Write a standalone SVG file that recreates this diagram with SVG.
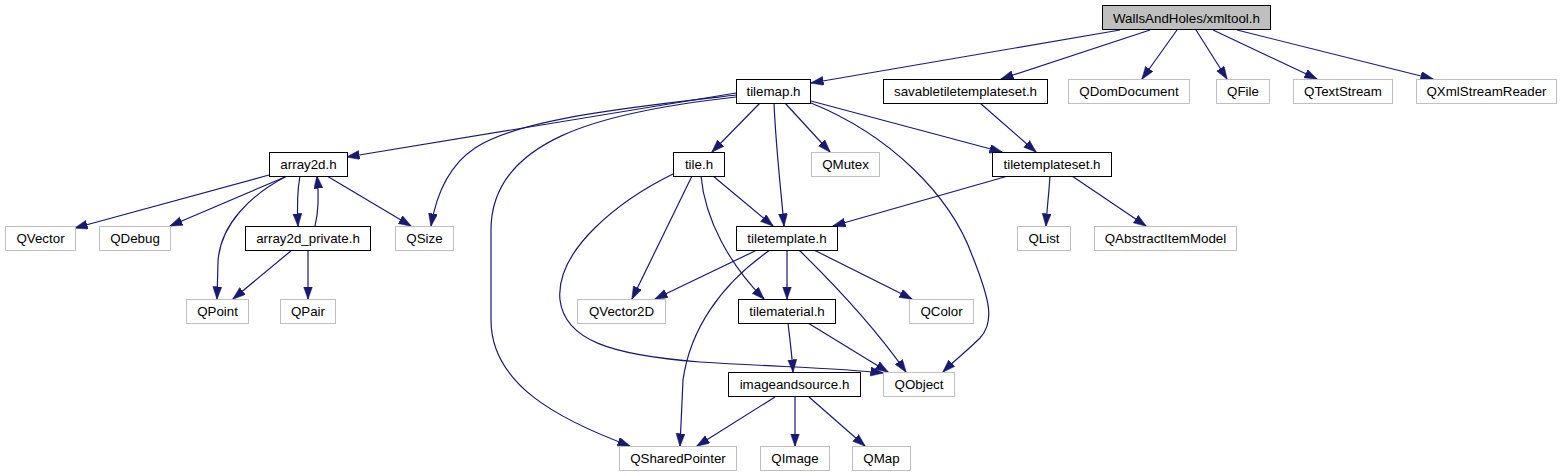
<svg xmlns="http://www.w3.org/2000/svg" width="1563" height="476" viewBox="0 0 1563 476">
<style>
.n rect{fill:#fff;stroke:#000;stroke-width:1}
.x rect{fill:#fff;stroke:#bfbfbf;stroke-width:1}
.r rect{fill:#bfbfbf;stroke:#000;stroke-width:1}
text{font-family:"Liberation Sans",Arial,sans-serif;font-size:13.33px;fill:#000;text-anchor:middle}
#edges path{fill:none;stroke:#191970;stroke-width:1.2;marker-end:url(#ah)}
</style>
<defs>
<marker id="ah" markerWidth="13" markerHeight="10" refX="12.5" refY="4.5" orient="auto" markerUnits="userSpaceOnUse">
<path d="M0,0 L13,4.5 L0,9 z" fill="#191970" stroke="#191970" stroke-width="0.5"/>
</marker>
</defs>
<rect width="1563" height="476" fill="#fff"/>
<g id="edges">
<path d="M1120,30 L811,83"/>
<path d="M1150,30 L1001,79"/>
<path d="M1177,30 L1142,79"/>
<path d="M1196,30 L1227,79"/>
<path d="M1213,30 L1317,79"/>
<path d="M1237,30 L1433,79"/>
<path d="M736,93 L347,157"/>
<path d="M736,95 C 640,106 520,118 475,148 C 448,166 436,196 431,226"/>
<path d="M736,97 C 600,112 491,140 491,230 L491,320 C 491,385 560,420 630,446"/>
<path d="M760,103 L712,152"/>
<path d="M774,103 C 776,150 781,190 784,226"/>
<path d="M785,103 L830,152"/>
<path d="M811,101 L1002,152"/>
<path d="M811,103 C 890,135 950,195 972,255 C 990,300 995,322 980,338 C 968,350 955,360 943,372"/>
<path d="M980,103 L1036,152"/>
<path d="M1008,176 L833,226"/>
<path d="M1050,176 C 1049,192 1047,208 1046,226"/>
<path d="M1072,176 L1146,226"/>
<path d="M269,175 L75,228"/>
<path d="M285,177 L170,226"/>
<path d="M287,176 C 250,195 220,225 218,262 L217,299"/>
<path d="M300,176 C 297,192 297,208 298,226"/>
<path d="M315,226 C 319,210 319,195 317,176"/>
<path d="M327,176 L411,226"/>
<path d="M292,250 L233,299"/>
<path d="M308,250 L308,299"/>
<path d="M713,176 L773,226"/>
<path d="M692,176 L632,299"/>
<path d="M701,176 C 705,220 730,265 764,299"/>
<path d="M673,174 C 620,200 555,250 560,300 C 565,340 610,355 700,362 C 780,367 840,368 883,373"/>
<path d="M757,250 L655,299"/>
<path d="M787,250 L787,299"/>
<path d="M814,250 L912,299"/>
<path d="M799,250 C 840,290 880,335 906,372"/>
<path d="M770,250 C 720,285 690,330 683,380 L680,446"/>
<path d="M788,323 C 790,340 792,355 793,372"/>
<path d="M808,323 L888,372"/>
<path d="M775,397 L697,446"/>
<path d="M795,397 L795,446"/>
<path d="M809,397 L865,446"/>
</g>
<g id="root" class="r"><rect x="1102.5" y="5.5" width="168" height="24"/><text x="1186.5" y="22.5">WallsAndHoles/xmltool.h</text></g>
<g id="tilemap" class="n"><rect x="736.5" y="79.5" width="74" height="24"/><text x="773.5" y="96">tilemap.h</text></g>
<g id="savabletiletemplateset" class="n"><rect x="883.5" y="79.5" width="164" height="24"/><text x="965.5" y="96">savabletiletemplateset.h</text></g>
<g id="QDomDocument" class="x"><rect x="1068.5" y="79.5" width="121" height="24"/><text x="1129" y="96">QDomDocument</text></g>
<g id="QFile" class="x"><rect x="1216.5" y="79.5" width="53" height="24"/><text x="1243" y="96">QFile</text></g>
<g id="QTextStream" class="x"><rect x="1293.5" y="79.5" width="99" height="24"/><text x="1343" y="96">QTextStream</text></g>
<g id="QXmlStreamReader" class="x"><rect x="1416.5" y="79.5" width="140" height="24"/><text x="1486.5" y="96">QXmlStreamReader</text></g>
<g id="array2d" class="n"><rect x="269.5" y="152.5" width="78" height="24"/><text x="308.5" y="169">array2d.h</text></g>
<g id="tile" class="n"><rect x="673.5" y="152.5" width="51" height="24"/><text x="699" y="169">tile.h</text></g>
<g id="QMutex" class="x"><rect x="811.5" y="152.5" width="68" height="24"/><text x="845.5" y="169">QMutex</text></g>
<g id="tiletemplateset" class="n"><rect x="992.5" y="152.5" width="119" height="24"/><text x="1052" y="169">tiletemplateset.h</text></g>
<g id="QVector" class="x"><rect x="5.5" y="226.5" width="70" height="24"/><text x="40.5" y="243">QVector</text></g>
<g id="QDebug" class="x"><rect x="99.5" y="226.5" width="71" height="24"/><text x="135" y="243">QDebug</text></g>
<g id="array2d_private" class="n"><rect x="245.5" y="226.5" width="125" height="24"/><text x="308" y="243">array2d_private.h</text></g>
<g id="QSize" class="x"><rect x="395.5" y="226.5" width="58" height="24"/><text x="424.5" y="243">QSize</text></g>
<g id="tiletemplate" class="n"><rect x="736.5" y="226.5" width="101" height="24"/><text x="787" y="243">tiletemplate.h</text></g>
<g id="QList" class="x"><rect x="1017.5" y="226.5" width="53" height="24"/><text x="1044" y="243">QList</text></g>
<g id="QAbstractItemModel" class="x"><rect x="1094.5" y="226.5" width="142" height="24"/><text x="1165.5" y="243">QAbstractItemModel</text></g>
<g id="QPoint" class="x"><rect x="186.5" y="299.5" width="62" height="24"/><text x="217.5" y="316">QPoint</text></g>
<g id="QPair" class="x"><rect x="280.5" y="299.5" width="55" height="24"/><text x="308" y="316">QPair</text></g>
<g id="QVector2D" class="x"><rect x="577.5" y="299.5" width="88" height="24"/><text x="621.5" y="316">QVector2D</text></g>
<g id="tilematerial" class="n"><rect x="738.5" y="299.5" width="97" height="24"/><text x="787" y="316">tilematerial.h</text></g>
<g id="QColor" class="x"><rect x="909.5" y="299.5" width="64" height="24"/><text x="941.5" y="316">QColor</text></g>
<g id="imageandsource" class="n"><rect x="728.5" y="372.5" width="132" height="24"/><text x="794.5" y="389">imageandsource.h</text></g>
<g id="QObject" class="x"><rect x="883.5" y="372.5" width="71" height="24"/><text x="919" y="389">QObject</text></g>
<g id="QSharedPointer" class="x"><rect x="619.5" y="446.5" width="117" height="24"/><text x="678" y="463">QSharedPointer</text></g>
<g id="QImage" class="x"><rect x="760.5" y="446.5" width="69" height="24"/><text x="795" y="463">QImage</text></g>
<g id="QMap" class="x"><rect x="852.5" y="446.5" width="58" height="24"/><text x="881.5" y="463">QMap</text></g>
</svg>
